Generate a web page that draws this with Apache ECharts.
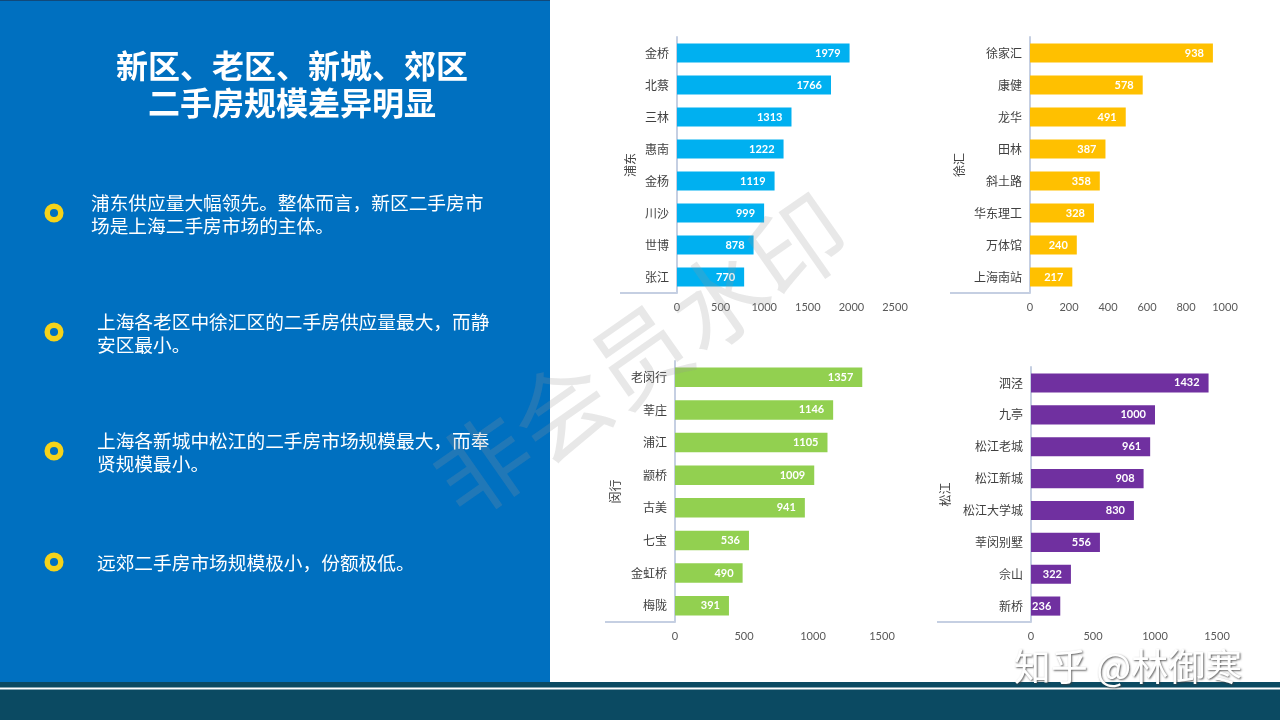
<!DOCTYPE html>
<html><head><meta charset="utf-8">
<script src="https://cdn.jsdelivr.net/npm/echarts@6/dist/echarts.min.js"></script>
<style>html,body{margin:0;padding:0;background:#fff;}#c{width:1280px;height:720px;}</style>
</head><body><div id="c"></div>
<script>
// ---- data ----
const pudongCats = ['金桥','北蔡','三林','惠南','金杨','川沙','世博','张江'];
const pudongVals = [1979,1766,1313,1222,1119,999,878,770];
const xuhuiCats = ['徐家汇','康健','龙华','田林','斜土路','华东理工','万体馆','上海南站'];
const xuhuiVals = [938,578,491,387,358,328,240,217];
const minhangCats = ['老闵行','莘庄','浦江','颛桥','古美','七宝','金虹桥','梅陇'];
const minhangVals = [1357,1146,1105,1009,941,536,490,391];
const songjiangCats = ['泗泾','九亭','松江老城','松江新城','松江大学城','莘闵别墅','佘山','新桥'];
const songjiangVals = [1432,1000,961,908,830,556,322,236];
const groupNames = ['浦东','徐汇','闵行','松江'];
const axisMax = [2500,1000,1500,1500];
const axisStep = [500,200,500,500];

const titleLines = ['新区、老区、新城、郊区','二手房规模差异明显'];
const bullets = [
  '浦东供应量大幅领先。整体而言，新区二手房市\n场是上海二手房市场的主体。',
  '上海各老区中徐汇区的二手房供应量最大，而静\n安区最小。',
  '上海各新城中松江的二手房市场规模最大，而奉\n贤规模最小。',
  '远郊二手房市场规模极小，份额极低。'
];

// ---- layout ----
const W = 1280, H = 720;
const colors = ['#00B0F0','#FFC000','#92D050','#7030A0'];
const grids = [
  {x0:677, x1:895, y0:37, y1:293, gap:41, ext:57},
  {x0:1030, x1:1225, y0:37, y1:293, gap:65, ext:80},
  {x0:675, x1:882, y0:361, y1:622, gap:54, ext:70},
  {x0:1031, x1:1217, y0:367, y1:622, gap:80, ext:94}
];
const catsList = [pudongCats, xuhuiCats, minhangCats, songjiangCats];
const valsList = [pudongVals, xuhuiVals, minhangVals, songjiangVals];
const CJK = '"Noto Sans CJK SC", "Noto Sans", sans-serif';
const NUM = 'Lato, "Liberation Sans", sans-serif';
const axisColor = '#c5cfe2';

const chart = echarts.init(document.getElementById('c'), null, {renderer:'canvas'});

const gridOpt = grids.map(g => ({left:g.x0, right:W-g.x1, top:g.y0, bottom:H-g.y1, containLabel:false}));
const xAxes = grids.map((g,i) => ({
  type:'value', gridIndex:i, min:0, max:axisMax[i], interval:axisStep[i],
  axisLine:{show:false}, axisTick:{show:false}, splitLine:{show:false},
  axisLabel:{color:'#595959', fontSize:11, fontFamily:NUM, margin:9, formatter:v => String(v)}
}));
const yAxes = grids.map((g,i) => ({
  type:'category', gridIndex:i, data:catsList[i], inverse:true,
  axisLine:{show:true, lineStyle:{color:axisColor, width:2}},
  axisTick:{show:false},
  axisLabel:{color:'#404040', fontSize:12, fontFamily:CJK, margin:8},
  name:groupNames[i], nameLocation:'middle', nameRotate:90, nameGap:g.gap,
  nameTextStyle:{color:'#404040', fontSize:12, fontFamily:CJK}
}));
const series = grids.map((g,i) => ({
  type:'bar', xAxisIndex:i, yAxisIndex:i, data:valsList[i],
  barCategoryGap:'40%', itemStyle:{color:colors[i]},
  label:{show:true, position:'insideRight', distance:9, color:'#fff', fontWeight:'bold', fontSize:11, fontFamily:NUM},
  animation:false
}));

const graphics = [];
// left panel
graphics.push({type:'rect', shape:{x:0,y:0,width:550,height:682}, style:{fill:'#0070C0'}, z:-10, silent:true});
graphics.push({type:'rect', shape:{x:0,y:0,width:550,height:1}, style:{fill:'#11497a'}, z:-9, silent:true});
// bottom band
graphics.push({type:'rect', shape:{x:0,y:682,width:W,height:38}, style:{fill:'#0B4A62'}, z:-10, silent:true});
graphics.push({type:'rect', shape:{x:0,y:687.5,width:W,height:2}, style:{fill:'#ffffff'}, z:-9, silent:true});
// title
titleLines.forEach((t,k) => graphics.push({type:'text', x:292, y:66+k*37, z:5, silent:true,
  style:{text:t, fill:'#fff', font:'bold 32px '+CJK, textAlign:'center', textVerticalAlign:'middle'}}));
// bullets
const bulletY = [213,332,451,562];
const textX = [91,97,97,97];
const textTop = [191.5,310.5,429.5,551.5];
bullets.forEach((b,k) => {
  graphics.push({type:'circle', shape:{cx:54, cy:bulletY[k], r:6.8}, style:{fill:'none', stroke:'#F5D31A', lineWidth:5.5}, z:5, silent:true});
  graphics.push({type:'text', x:textX[k], y:textTop[k], z:5, silent:true,
    style:{text:b, fill:'#fff', font:'18.7px '+CJK, lineHeight:23, textAlign:'left', textVerticalAlign:'top'}});
});
// category axis bottom separators
grids.forEach(g => graphics.push({type:'line', shape:{x1:g.x0-g.ext, y1:g.y1, x2:g.x0, y2:g.y1},
  style:{stroke:axisColor, lineWidth:2}, z:3, silent:true}));
// watermarks
graphics.push({type:'text', x:640, y:355, rotation:35*Math.PI/180, z:50, silent:true,
  style:{text:'非会员水印', fill:'rgba(150,150,150,0.22)', font:'96px '+CJK, textAlign:'center', textVerticalAlign:'middle'}});
graphics.push({type:'text', x:1128, y:667, z:50, silent:true,
  style:{text:'知乎 @林御寒', fill:'#ffffff', font:'37px '+CJK, textAlign:'center', textVerticalAlign:'middle',
    textShadowColor:'rgba(60,60,60,0.8)', textShadowBlur:2, textShadowOffsetX:1, textShadowOffsetY:1}});

chart.setOption({
  animation:false,
  backgroundColor:'#ffffff',
  grid:gridOpt, xAxis:xAxes, yAxis:yAxes, series:series,
  graphic:{elements:graphics}
});
</script></body></html>
